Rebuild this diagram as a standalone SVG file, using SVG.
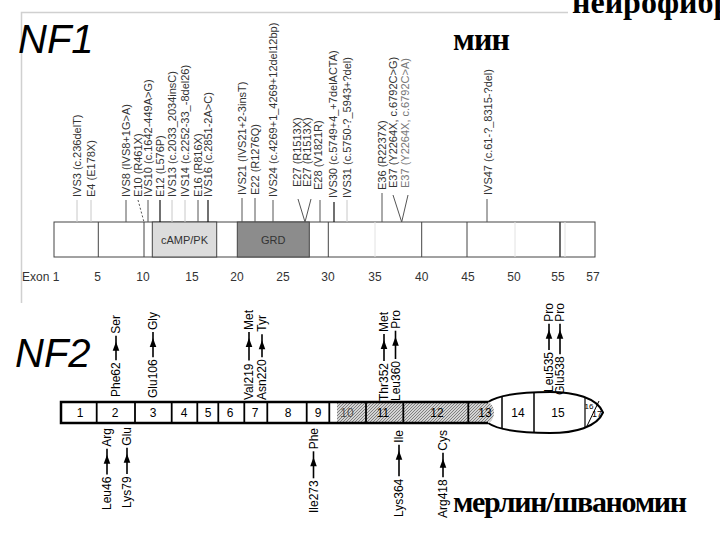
<svg xmlns="http://www.w3.org/2000/svg" width="720" height="540" viewBox="0 0 720 540">
<defs>
<style>
.t1{font-family:"Liberation Sans",Arial,sans-serif;font-size:11px;fill:#333}
.ax{font-family:"Liberation Sans",Arial,sans-serif;font-size:12px;fill:#333}
.t2{font-family:"Liberation Sans",Arial,sans-serif;font-size:12px;fill:#000}
.seg{font-family:"Liberation Sans",Arial,sans-serif;font-size:12px;fill:#000;text-anchor:middle}
.ru{font-family:"Liberation Serif","Times New Roman",serif;font-weight:bold;fill:#000}
.big{font-family:"Liberation Sans",Arial,sans-serif;font-style:italic;font-size:40px;fill:#000}
.tk{stroke:#555;stroke-width:1}
.tkl{stroke:#c8c8c8;stroke-width:1}
.tkd{stroke:#111;stroke-width:1.2}
.div{stroke:#444;stroke-width:1}
.dv2{stroke:#000;stroke-width:1.8}
.arr{stroke:#000;stroke-width:1.6}
</style>
<pattern id="hatch" width="3" height="3" patternUnits="userSpaceOnUse"><rect width="3" height="3" fill="#d4d4d4"/><path d="M0,3 L3,0" stroke="#6a6a6a" stroke-width="0.8"/></pattern>
</defs>
<rect width="720" height="540" fill="#fff"/>
<g id="frame" fill="none" stroke="#d0d0d0" stroke-width="1.5">
<path d="M21.5,303 V12.5 H568"/>
</g>
<g id="titles">
<text class="ru" x="572" y="13" font-size="32">нейрофибр</text>
<text class="ru" x="453" y="50" font-size="32" textLength="57">мин</text>
<text class="ru" x="453" y="512" font-size="30" textLength="234">мерлин/шваномин</text>
<text class="big" x="18" y="53">NF1</text>
<text class="big" x="15" y="367">NF2</text>
</g>
<g id="nf1-bar">
<rect x="54" y="222" width="541" height="35" fill="#fff" stroke="#444" stroke-width="1"/>
<rect x="152.3" y="222" width="64.4" height="35" fill="#dcdcdc" stroke="#444" stroke-width="1"/>
<rect x="237.3" y="222" width="72" height="35" fill="#8c8c8c" stroke="#444" stroke-width="1"/>
<g class="div">
<line x1="98.3" y1="222" x2="98.3" y2="257"/>
<line x1="144" y1="222" x2="144" y2="257"/>
<line x1="328.3" y1="222" x2="328.3" y2="257"/>
<line x1="421.7" y1="222" x2="421.7" y2="257"/>
<line x1="467" y1="222" x2="467" y2="257"/>
<line x1="560" y1="222" x2="560" y2="257" stroke-width="1.6"/>
</g>
<g stroke="#e2e2e2" stroke-width="1">
<line x1="375" y1="222" x2="375" y2="257"/>
<line x1="515" y1="222" x2="515" y2="257"/>
<line x1="565" y1="222" x2="565" y2="257"/>
</g>
<text class="t1" x="184.5" y="244" text-anchor="middle" font-size="12" fill="#222">cAMP/PK</text>
<text class="t1" x="273.3" y="244" text-anchor="middle" font-size="12" fill="#222">GRD</text>
</g>
<g id="nf1-axis" class="ax" text-anchor="middle">
<text x="22" y="281" text-anchor="start">Exon 1</text>
<text x="97.5" y="281">5</text>
<text x="143" y="281">10</text>
<text x="192" y="281">15</text>
<text x="237" y="281">20</text>
<text x="283" y="281">25</text>
<text x="328" y="281">30</text>
<text x="375" y="281">35</text>
<text x="421.7" y="281">40</text>
<text x="468" y="281">45</text>
<text x="514" y="281">50</text>
<text x="558" y="281">55</text>
<text x="593" y="281">57</text>
</g>
<g id="connectors">
<line class="tkl" x1="77" y1="200" x2="77" y2="222"/>
<line class="tkl" x1="91" y1="200" x2="91" y2="222"/>
<line class="tk" x1="126" y1="200" x2="126" y2="222"/>
<line class="tk" x1="138" y1="200" x2="144" y2="222" stroke-dasharray="2,2"/>
<line class="tk" x1="148" y1="200" x2="148" y2="222" stroke="#888"/>
<line class="tkd" x1="160" y1="200" x2="160" y2="222"/>
<line class="tkl" x1="172" y1="200" x2="172" y2="222"/>
<line class="tkl" x1="185" y1="200" x2="185" y2="222"/>
<line class="tk" x1="198" y1="200" x2="198" y2="222"/>
<line class="tkd" x1="208" y1="200" x2="208" y2="222"/>
<line class="tk" x1="242" y1="198" x2="242" y2="222"/>
<line class="tk" x1="255" y1="198" x2="255" y2="222"/>
<line class="tk" x1="273" y1="200" x2="273" y2="222"/>
<line class="tk" x1="298" y1="199" x2="305" y2="222" stroke="#777"/>
<line class="tk" x1="311" y1="199" x2="305" y2="222" stroke="#777"/>
<line class="tk" x1="320" y1="200" x2="320" y2="222"/>
<line class="tkd" x1="334" y1="202" x2="334" y2="222" stroke-width="1.8"/>
<line class="tkl" x1="347" y1="200" x2="347" y2="222"/>
<line class="tk" x1="382" y1="193" x2="382" y2="222"/>
<line class="tk" x1="393" y1="195" x2="401.7" y2="222"/>
<line class="tk" x1="408" y1="195" x2="401.7" y2="222"/>
<line class="tk" x1="487" y1="199" x2="487" y2="222"/>
</g>
<g id="nf1-labels" class="t1">
<text transform="translate(80.9,197) rotate(-90)">IVS3 (c.236delT)</text>
<text transform="translate(94.9,197) rotate(-90)">E4 (E178X)</text>
<text transform="translate(129.9,197) rotate(-90)">IVS8 (IVS8+1G&gt;A)</text>
<text transform="translate(141.9,197) rotate(-90)">E10 (R461X)</text>
<text transform="translate(151.9,197) rotate(-90)">IVS10 (c.1642-449A&gt;G)</text>
<text transform="translate(163.9,197) rotate(-90)">E12 (L576P)</text>
<text transform="translate(175.9,197) rotate(-90)">IVS13 (c.2033_2034insC)</text>
<text transform="translate(188.9,197) rotate(-90)">IVS14 (c.2252-33_-8del26)</text>
<text transform="translate(201.9,197) rotate(-90)">E16 (R816X)</text>
<text transform="translate(211.9,197) rotate(-90)">IVS16 (c.2851-2A&gt;C)</text>
<text transform="translate(245.9,195) rotate(-90)">IVS21 (IVS21+2-3insT)</text>
<text transform="translate(258.9,195) rotate(-90)">E22 (R1276Q)</text>
<text transform="translate(276.9,197) rotate(-90)">IVS24 (c.4269+1_4269+12del12bp)</text>
<text transform="translate(300.9,187) rotate(-90)">E27 (R1513X)</text>
<text transform="translate(310.9,187) rotate(-90)">E27 (R1513X)</text>
<text transform="translate(321.9,190) rotate(-90)">E28 (V1821R)</text>
<text transform="translate(336.9,198) rotate(-90)">IVS30 (c.5749+4_+7delACTA)</text>
<text transform="translate(350.9,198) rotate(-90)">IVS31 (c.5750-?_5943+?del)</text>
<text transform="translate(385.9,190) rotate(-90)">E36 (R2237X)</text>
<text transform="translate(396.9,188) rotate(-90)">E37 (Y2264X, c.6792C&gt;G)</text>
<text transform="translate(408.9,188) rotate(-90)" fill="#777">E37 (Y2264X, c.6792C&gt;A)</text>
<text transform="translate(491.9,195) rotate(-90)">IVS47 (c.61-?_8315-?del)</text>
</g>
<g id="nf2-protein">
<rect x="61" y="402" width="268.3" height="21" fill="#fff"/>
<rect x="329.3" y="402" width="7.7" height="21" fill="#fff"/>
<rect x="337" y="402" width="151" height="21" fill="url(#hatch)"/>
<path d="M488,402 C500,394 525,392 550,392 C575,392 597,398 603,412.5 C597,427 575,433 550,433 C525,433 500,431 488,423" fill="#fff" stroke="#000" stroke-width="2"/>
<path d="M468.3,402 H488 C492,404 494,408 494,412.5 C494,417 492,421 488,423 H468.3 Z" fill="url(#hatch)"/>
<path d="M488,402 H61 V423 H488" fill="none" stroke="#000" stroke-width="2.5"/>
<g class="dv2">
<line x1="96.7" y1="402" x2="96.7" y2="423"/>
<line x1="135" y1="402" x2="135" y2="423"/>
<line x1="171.7" y1="402" x2="171.7" y2="423"/>
<line x1="197.3" y1="402" x2="197.3" y2="423"/>
<line x1="218.3" y1="402" x2="218.3" y2="423"/>
<line x1="244.3" y1="402" x2="244.3" y2="423"/>
<line x1="267.3" y1="402" x2="267.3" y2="423"/>
<line x1="306.7" y1="402" x2="306.7" y2="423"/>
<line x1="329.3" y1="402" x2="329.3" y2="423"/>
<line x1="366" y1="402" x2="366" y2="423"/>
<line x1="403.3" y1="402" x2="403.3" y2="423"/>
<line x1="468.3" y1="402" x2="468.3" y2="423"/>
<line x1="502" y1="396.7" x2="502" y2="428.3" stroke-width="1.5"/>
<line x1="534" y1="392.3" x2="534" y2="432.7" stroke-width="1.5"/>
<line x1="585" y1="397" x2="585" y2="428" stroke-width="1.2"/>
<line x1="587" y1="426" x2="599" y2="401" stroke-width="1"/>
</g>
<g class="seg">
<text x="80" y="417">1</text>
<text x="115" y="417">2</text>
<text x="153" y="417">3</text>
<text x="184" y="417">4</text>
<text x="208" y="417">5</text>
<text x="230" y="417">6</text>
<text x="255" y="417">7</text>
<text x="288" y="417">8</text>
<text x="318" y="417">9</text>
<text x="347" y="417" fill="#555">10</text>
<text x="383" y="417">11</text>
<text x="437" y="417">12</text>
<text x="485" y="417">13</text>
<text x="518" y="417">14</text>
<text x="558" y="417">15</text>
<text x="589" y="409" font-size="8">16</text>
<text x="597" y="417" font-size="9">17</text>
</g>
</g>
<g id="nf2-labels" class="t2">
<g transform="translate(120.3,397) rotate(-90)"><text>Phe62</text><line class="arr" x1="36.7" y1="-4.3" x2="61.3" y2="-4.3"/><polygon points="55.3,-4.3 46.3,-7.6 46.3,-1" fill="#000"/><text x="82" text-anchor="end">Ser</text></g>
<g transform="translate(157.3,398) rotate(-90)"><text>Glu106</text><line class="arr" x1="40.7" y1="-4.3" x2="66" y2="-4.3"/><polygon points="60,-4.3 51,-7.6 51,-1" fill="#000"/><text x="86" text-anchor="end">Gly</text></g>
<g transform="translate(253.3,400) rotate(-90)"><text>Val219</text><line class="arr" x1="39.4" y1="-4.3" x2="68" y2="-4.3"/><polygon points="62,-4.3 53,-7.6 53,-1" fill="#000"/><text x="90" text-anchor="end">Met</text></g>
<g transform="translate(266.3,400) rotate(-90)"><text>Asn220</text><line class="arr" x1="42.7" y1="-4.3" x2="65.7" y2="-4.3"/><polygon points="59.7,-4.3 50.7,-7.6 50.7,-1" fill="#000"/><text x="85" text-anchor="end">Tyr</text></g>
<g transform="translate(388.3,401) rotate(-90)"><text>Thr352</text><line class="arr" x1="40" y1="-4.3" x2="67" y2="-4.3"/><polygon points="61,-4.3 52,-7.6 52,-1" fill="#000"/><text x="89" text-anchor="end">Met</text></g>
<g transform="translate(399.8,401) rotate(-90)"><text>Leu360</text><line class="arr" x1="42" y1="-4.3" x2="70.3" y2="-4.3"/><polygon points="64.3,-4.3 55.3,-7.6 55.3,-1" fill="#000"/><text x="91" text-anchor="end">Pro</text></g>
<g transform="translate(553.3,392) rotate(-90)"><text>Leu535</text><line class="arr" x1="42" y1="-4.3" x2="68.3" y2="-4.3"/><polygon points="62.3,-4.3 53.3,-7.6 53.3,-1" fill="#000"/><text x="89" text-anchor="end">Pro</text></g>
<g transform="translate(564.3,395) rotate(-90)"><text>Glu538</text><line class="arr" x1="40.7" y1="-4.3" x2="71.3" y2="-4.3"/><polygon points="65.3,-4.3 56.3,-7.6 56.3,-1" fill="#000"/><text x="92" text-anchor="end">Pro</text></g>
<g transform="translate(111.3,510) rotate(-90)"><text>Leu46</text><line class="arr" x1="35.4" y1="-4.3" x2="61.3" y2="-4.3"/><polygon points="55.3,-4.3 46.3,-7.6 46.3,-1" fill="#000"/><text x="82" text-anchor="end">Arg</text></g>
<g transform="translate(131.3,508) rotate(-90)"><text>Lys79</text><line class="arr" x1="34" y1="-4.3" x2="60.3" y2="-4.3"/><polygon points="54.3,-4.3 45.3,-7.6 45.3,-1" fill="#000"/><text x="81" text-anchor="end">Glu</text></g>
<g transform="translate(317.8,513) rotate(-90)"><text>Ile273</text><line class="arr" x1="34.7" y1="-4.3" x2="61.7" y2="-4.3"/><polygon points="55.7,-4.3 46.7,-7.6 46.7,-1" fill="#000"/><text x="85" text-anchor="end">Phe</text></g>
<g transform="translate(403.3,517) rotate(-90)"><text>Lys364</text><line class="arr" x1="40.7" y1="-4.3" x2="72.3" y2="-4.3"/><polygon points="66.3,-4.3 57.3,-7.6 57.3,-1" fill="#000"/><text x="87" text-anchor="end">Ile</text></g>
<g transform="translate(447.3,518) rotate(-90)"><text>Arg418</text><line class="arr" x1="40.7" y1="-4.3" x2="65.3" y2="-4.3"/><polygon points="59.3,-4.3 50.3,-7.6 50.3,-1" fill="#000"/><text x="88" text-anchor="end">Cys</text></g>
</g>
</svg>
